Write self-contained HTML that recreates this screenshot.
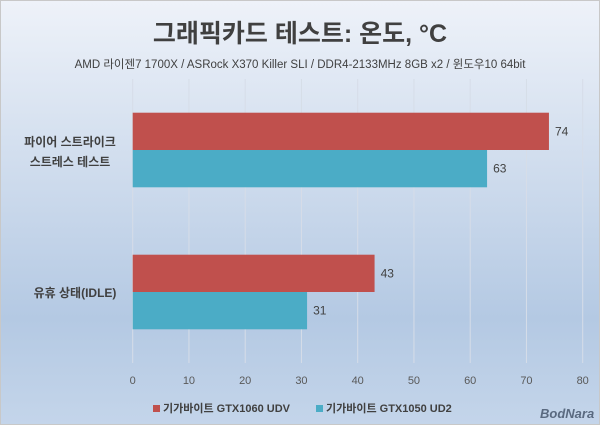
<!DOCTYPE html>
<html><head><meta charset="utf-8"><style>
body{margin:0;width:600px;height:425px;overflow:hidden}
svg{display:block;font-family:"Liberation Sans","Noto Sans CJK KR",sans-serif}
</style></head><body>
<svg width="600" height="425">
<defs><linearGradient id="bg" x1="0" y1="0" x2="0" y2="1">
<stop offset="0" stop-color="#eef2f9"/><stop offset="0.75" stop-color="#b4c9e3"/><stop offset="1" stop-color="#c4d5ea"/></linearGradient></defs>
<rect x="0.5" y="0.5" width="599" height="424" fill="url(#bg)" stroke="#c8c8c8"/>
<text x="300" y="42" text-anchor="middle" font-size="25" font-weight="bold" fill="#404040">그래픽카드 테스트: 온도, °C</text>
<text x="300" y="68" text-anchor="middle" font-size="11.5" fill="#404040">AMD 라이젠7 1700X /  ASRock X370 Killer SLI / DDR4-2133MHz  8GB x2 / 윈도우10 64bit</text>
<g id="grid"></g><g id="bars"></g><g id="ticks"></g>
<text x="70" y="146" text-anchor="middle" font-size="12" font-weight="bold" fill="#404040"><tspan x="70">파이어 스트라이크</tspan><tspan x="70" dy="20">스트레스 테스트</tspan></text>
<text x="75" y="297" text-anchor="middle" font-size="12" font-weight="bold" fill="#404040">유휴 상태(IDLE)</text>
<g>
<rect x="153" y="405" width="7" height="7" fill="#c0504d"/>
<text x="163" y="412" font-size="11" font-weight="bold" fill="#404040">기가바이트 GTX1060 UDV</text>
<rect x="316" y="405" width="7" height="7" fill="#4bacc6"/>
<text x="326" y="412" font-size="11" font-weight="bold" fill="#404040">기가바이트 GTX1050 UD2</text>
</g>
<text x="540" y="418" font-size="13" font-weight="bold" fill="#5a6a80" font-style="italic">BodNara</text>
</svg>
<script>
const categories=["파이어 스트라이크 스트레스 테스트","유휴 상태(IDLE)"];
const gtx1060=[74,43];
const gtx1050=[63,31];
const ticks=[0,10,20,30,40,50,60,70,80];
const ns="http://www.w3.org/2000/svg";
const x0=132.7,x1=582.7,xmax=80,plotTop=79,bh=142,barH=37.3;
const X=v=>x0+(x1-x0)*v/xmax;
function mk(t,a,p){const e=document.createElementNS(ns,t);for(const k in a)e.setAttribute(k,a[k]);p.appendChild(e);return e;}
const g=document.getElementById('grid'),b=document.getElementById('bars'),tk=document.getElementById('ticks');
ticks.forEach(t=>{
 const l=mk('line',{x1:X(t),x2:X(t),y1:plotTop,y2:363,stroke:'#d6dde8','stroke-width':1},g);
 
 
 const s=mk('text',{x:X(t),y:384,'text-anchor':'middle','font-size':11,fill:'#595959'},tk);
 s.textContent=t;
 
 
});
categories.forEach((c,i)=>{
 const cy=plotTop+bh*(i+0.5);
 [[gtx1060[i],'#c0504d',cy-barH,'bar-gtx1060'],[gtx1050[i],'#4bacc6',cy,'bar-gtx1050']].forEach(([v,col,y,n])=>{
  const r=mk('rect',{x:x0,y:y,width:X(v)-x0,height:barH,fill:col},b);
  
  
  const t=mk('text',{x:X(v)+6,y:y+barH/2+4,'font-size':12,fill:'#404040'},b);
  t.textContent=v;
  
  
 });
});
</script>
</body></html>
